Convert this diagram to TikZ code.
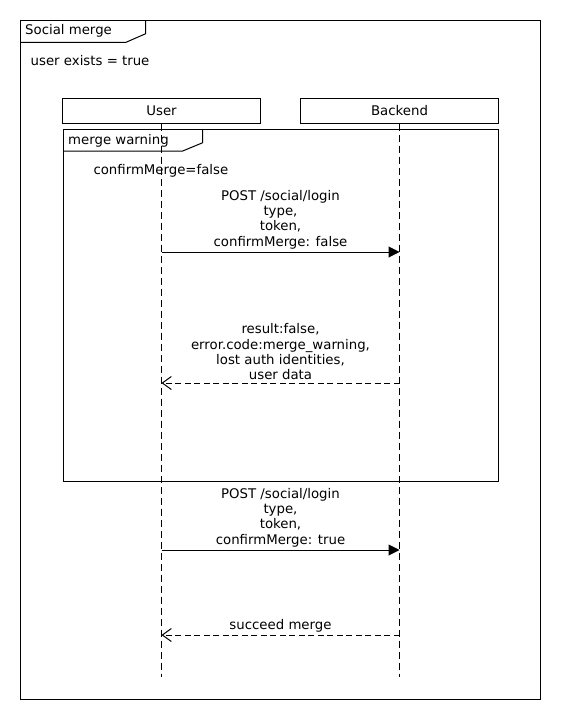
\documentclass[tikz,border=0pt]{standalone}
\usepackage{fontspec}
\setmainfont{DejaVu Sans}
\usetikzlibrary{arrows.meta}
\begin{document}
\begin{tikzpicture}[x=1pt,y=-1pt,
  every node/.style={font=\fontsize{13.3}{15.3}\selectfont, text=black},
  frame/.style={draw=black, line width=1pt},
  actor/.style={draw=black, line width=1pt, minimum width=198pt, minimum height=25pt, inner sep=0pt},
  lifeline/.style={draw=black, line width=1pt, dash pattern=on 7pt off 4pt},
  msg/.style={draw=black, line width=1pt, -{Triangle[length=11pt,width=11pt]}},
  reply/.style={draw=black, line width=1pt, dash pattern=on 6pt off 3.5pt, -{Straight Barb[length=9pt,width=13pt]}},
  msgtext/.style={align=center, anchor=south, inner sep=0pt},
  label/.style={anchor=west, inner sep=0pt}]
\useasboundingbox (0,0) rectangle (560,720);

% outer frame with its name tab
\draw[frame] (20.5,20) rectangle (540,699);
\draw[frame] (20.5,42.3) -- (126,42.3) -- (145.7,33.7) -- (145.7,20);
\node[label] (outertitle) at (25,31) {Social merge};
\node[label] (guard) at (30.5,61) {user exists = true};

% participants
\node[actor] (user) at (161.5,110.5) {User};
\node[actor] (backend) at (399.5,110.5) {Backend};

% lifelines
\coordinate (userend) at (161.5,677);
\coordinate (backendend) at (399.5,677);
\draw[lifeline] (user.south) -- (userend);
\draw[lifeline] (backend.south) -- (backendend);

% merge warning fragment
\draw[frame] (63,129) rectangle (498,481.5);
\draw[frame] (63,151) -- (182.7,151) -- (202.7,142.7) -- (202.7,129);
\node[label] (fragtitle) at (68,140.5) {merge warning};
\node[label] (cond) at (93.3,171) {confirmMerge=false};

% message anchors on the lifelines
\coordinate (u1) at (161.5,252);
\coordinate (b1) at (399.5,252);
\coordinate (u2) at (161.5,383);
\coordinate (b2) at (399.5,383);
\coordinate (u3) at (161.5,550);
\coordinate (b3) at (399.5,550);
\coordinate (u4) at (161.5,635);
\coordinate (b4) at (399.5,635);

% first login request and its reply
\draw[msg] (u1) -- (b1);
\node[msgtext] (m1) at (280.5,249) {POST /social/login\\type,\\token,\\confirmMerge: false};
\draw[reply] (b2) -- (u2);
\node[msgtext] (m2) at (280.5,380) {result:false,\\error.code:merge\_warning,\\lost auth identities,\\user data};

% second login request and its reply
\draw[msg] (u3) -- (b3);
\node[msgtext] (m3) at (280.5,547) {POST /social/login\\type,\\token,\\confirmMerge: true};
\draw[reply] (b4) -- (u4);
\node[msgtext] (m4) at (280.5,632) {succeed merge};
\end{tikzpicture}
\end{document}
